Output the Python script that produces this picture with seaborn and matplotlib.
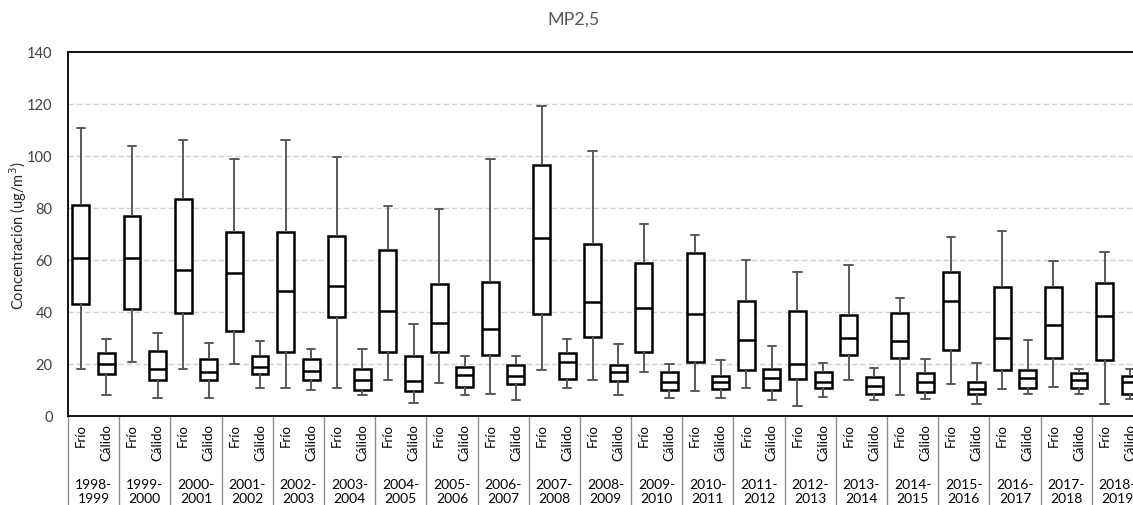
import numpy as np
import pandas as pd
import matplotlib
matplotlib.use("Agg")
import matplotlib.pyplot as plt
import matplotlib.transforms as mtransforms
import seaborn as sns

periods = ["1998-1999", "1999-2000", "2000-2001", "2001-2002", "2002-2003", "2003-2004",
           "2004-2005", "2005-2006", "2006-2007", "2007-2008", "2008-2009", "2009-2010",
           "2010-2011", "2011-2012", "2012-2013", "2013-2014", "2014-2015", "2015-2016",
           "2016-2017", "2017-2018", "2018-2019"]
seasons = ["Frío", "Cálido"]

frio_min = [18.0, 20.9, 18.0, 20.0, 10.9, 10.9, 13.9, 12.8, 8.3, 17.6, 13.9, 16.8, 9.8, 10.9, 4.0, 14.0, 8.0, 12.2, 10.4, 11.3, 4.6]
frio_q1 = [42.9, 41.1, 39.6, 32.8, 24.8, 38.0, 24.8, 24.8, 23.5, 39.2, 30.3, 24.5, 20.7, 17.6, 14.1, 23.5, 22.2, 25.2, 17.6, 22.2, 21.4]
frio_med = [60.9, 60.9, 56.1, 55.1, 48.0, 50.0, 40.5, 35.7, 33.3, 68.3, 43.9, 41.7, 39.3, 29.2, 19.9, 29.9, 29.0, 44.2, 29.9, 35.1, 38.4]
frio_q3 = [81.0, 77.1, 83.4, 70.9, 70.9, 69.1, 64.0, 50.6, 51.5, 96.6, 66.1, 58.8, 62.7, 44.4, 40.5, 38.9, 39.6, 55.4, 49.6, 49.8, 51.1]
frio_max = [110.7, 103.8, 106.1, 99.0, 106.1, 99.8, 80.9, 79.8, 99.0, 119.1, 102.1, 73.9, 69.5, 60.1, 55.2, 58.1, 45.3, 68.7, 71.2, 59.7, 62.9]

calido_min = [8.0, 7.1, 7.1, 10.9, 10.0, 8.0, 4.9, 8.0, 6.2, 10.9, 8.0, 7.1, 7.1, 6.2, 7.3, 6.2, 6.7, 4.6, 8.3, 8.6, 6.7]
calido_q1 = [16.1, 13.9, 13.9, 16.1, 13.9, 10.0, 9.6, 11.3, 12.5, 14.3, 13.5, 10.0, 10.5, 10.0, 10.9, 8.5, 9.4, 8.5, 10.9, 10.9, 8.5]
calido_med = [20.0, 18.0, 17.0, 18.9, 17.3, 13.9, 13.6, 15.9, 15.3, 20.8, 17.0, 13.0, 13.0, 14.5, 13.2, 11.7, 13.0, 10.4, 14.5, 13.9, 13.2]
calido_q3 = [24.1, 24.9, 21.8, 23.2, 21.8, 18.0, 23.2, 18.9, 19.5, 24.1, 19.5, 16.8, 15.5, 18.0, 16.8, 14.9, 16.4, 13.1, 17.6, 16.4, 15.4]
calido_max = [29.7, 31.9, 28.0, 28.9, 25.9, 25.9, 35.3, 23.2, 23.2, 29.5, 27.7, 20.0, 21.6, 27.0, 20.2, 18.6, 21.8, 20.4, 29.3, 18.2, 18.0]

yticks = [0, 20, 40, 60, 80, 100, 120, 140]

# Build long-form data: five points per box reproduce min/q1/median/q3/max exactly
rows = []
order = []
stats = {"Frío": (frio_min, frio_q1, frio_med, frio_q3, frio_max),
         "Cálido": (calido_min, calido_q1, calido_med, calido_q3, calido_max)}
for i, p in enumerate(periods):
    for s in seasons:
        key = f"{p} {s}"
        order.append(key)
        for arr in stats[s]:
            rows.append({"box": key, "value": arr[i]})
df = pd.DataFrame(rows)

sns.set_theme(style="white")
plt.rcParams["font.family"] = ["Lato", "DejaVu Sans"]

W, H = 1133, 505
fig = plt.figure(figsize=(W / 100, H / 100), dpi=100)
ax_left, ax_bottom, ax_w, ax_h = 68, 89, 1075, 364
ax = fig.add_axes([ax_left / W, ax_bottom / H, ax_w / W, ax_h / H])

for y in yticks[1:-1]:
    ax.axhline(y, color="#d0d0d0", lw=1.0, ls=(0, (4, 2)), zorder=0)

sns.boxplot(data=df, x="box", y="value", order=order, ax=ax, width=0.66,
            whis=(0, 100), showfliers=False, color="white",
            boxprops=dict(facecolor="white", edgecolor="black", linewidth=1.8),
            whiskerprops=dict(color="#595959", linewidth=1.4),
            capprops=dict(color="#595959", linewidth=1.4),
            medianprops=dict(color="black", linewidth=1.8))

ax.set_xlim(-0.5, 2 * len(periods) - 0.5)
ax.set_ylim(0, 140)
ax.set_yticks(yticks)
ax.set_xticks([])
ax.set_xlabel("")
ax.set_ylabel("")
ax.tick_params(axis="y", labelsize=10.5, labelcolor="#404040", length=0, pad=11)
for sp in ax.spines.values():
    sp.set_color("black")
    sp.set_linewidth(1.3)
ax.grid(False)

fig.text(18 / W, 1 - 236 / H, "Concentración (ug/m$^3$)", rotation=90, ha="center",
         va="center", fontsize=10.5, color="#262626")

trans = mtransforms.blended_transform_factory(ax.transData, ax.transAxes)
n = len(periods)
for i in range(n + 1):
    ax.plot([2 * i - 0.5, 2 * i - 0.5], [0, -0.3], transform=trans, color="#8c8c8c",
            lw=1.0, clip_on=False)
for i, p in enumerate(periods):
    for j, s in enumerate(seasons):
        ax.text(2 * i + j, -0.022, s, transform=trans, rotation=90, ha="center",
                va="top", fontsize=9.5, color="black", clip_on=False)
    a, b = p.split("-")
    ax.text(2 * i + 0.5, -0.172, f"{a}-\n{b}", transform=trans, ha="center", va="top",
            fontsize=10, color="black", linespacing=1.25, clip_on=False)

fig.text(574 / W, 1 - 20 / H, "MP2,5", ha="center", va="center", fontsize=13, color="#595959")

fig.savefig("out.png", dpi=100)
